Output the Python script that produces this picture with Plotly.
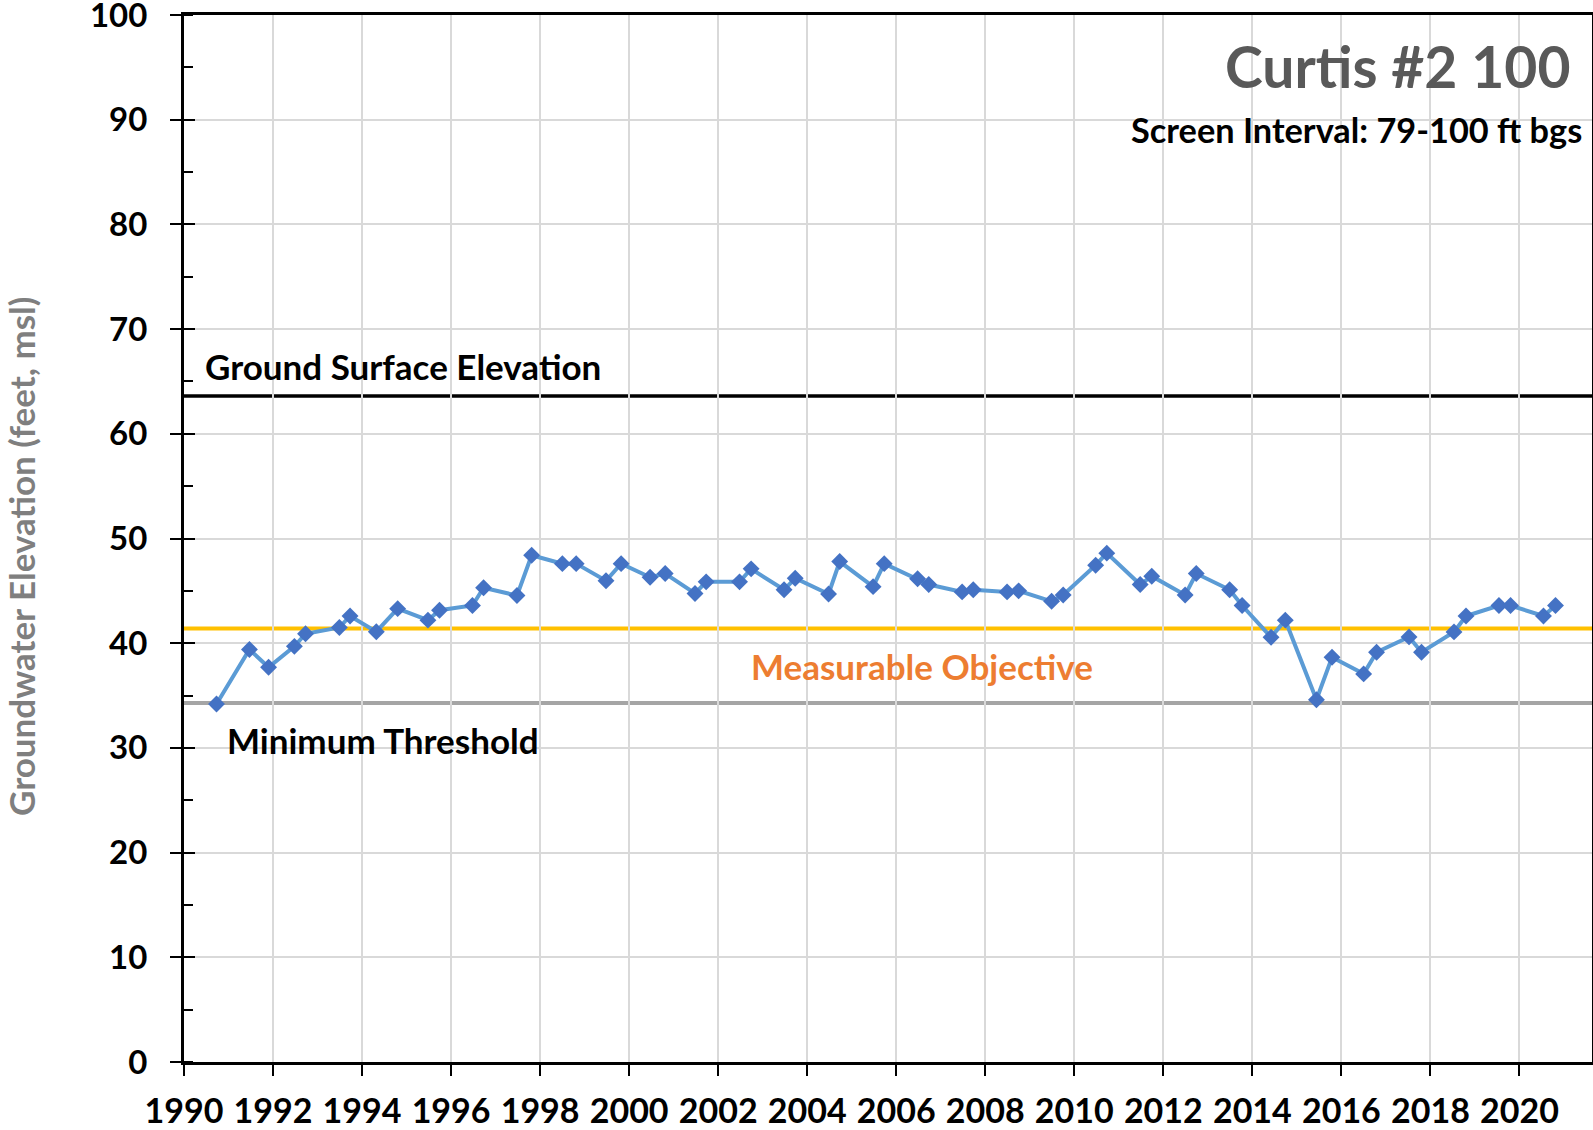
import plotly.graph_objects as go

# --- data (decimal years, groundwater elevation ft msl) ---
years = [1990.73, 1991.47, 1991.90, 1992.48, 1992.73, 1993.49, 1993.73, 1994.32, 1994.80,
         1995.48, 1995.74, 1996.48, 1996.73, 1997.48, 1997.81, 1998.50, 1998.81, 1999.48,
         1999.82, 2000.47, 2000.81, 2001.48, 2001.73, 2002.48, 2002.74, 2003.48, 2003.73,
         2004.48, 2004.73, 2005.48, 2005.73, 2006.48, 2006.73, 2007.48, 2007.73, 2008.49,
         2008.75, 2009.49, 2009.75, 2010.48, 2010.73, 2011.48, 2011.74, 2012.49, 2012.74,
         2013.49, 2013.77, 2014.42, 2014.74, 2015.44, 2015.79, 2016.50, 2016.79, 2017.52,
         2017.80, 2018.53, 2018.80, 2019.54, 2019.80, 2020.54, 2020.81]
elevation = [34.2, 39.4, 37.7, 39.7, 40.9, 41.5, 42.6, 41.1, 43.3,
             42.2, 43.15, 43.6, 45.3, 44.55, 48.4, 47.6, 47.6, 45.96,
             47.6, 46.3, 46.65, 44.75, 45.86, 45.86, 47.1, 45.1, 46.2,
             44.7, 47.8, 45.4, 47.6, 46.15, 45.6, 44.9, 45.1, 44.9,
             45.0, 44.0, 44.6, 47.45, 48.6, 45.6, 46.4, 44.6, 46.65,
             45.1, 43.6, 40.57, 42.2, 34.6, 38.66, 37.07, 39.14, 40.6,
             39.14, 41.08, 42.6, 43.6, 43.6, 42.6, 43.6]

ground_surface = 63.6
measurable_objective = 41.4
minimum_threshold = 34.3

title_text = "Curtis #2 100"
subtitle_text = "Screen Interval: 79-100 ft bgs"
y_title = "Groundwater Elevation (feet, msl)"

x_min, x_max = 1990, 2021.63
y_min, y_max = 0, 100

FONT = "Lato"
W, H = 1593, 1130
L, R, T, B = 184, 1592, 15, 1062  # plot area in pixels

fig = go.Figure()

# reference lines
for yv, col, wd in [(ground_surface, "#000000", 3.5), (measurable_objective, "#FFC000", 4),
                    (minimum_threshold, "#A5A5A5", 4)]:
    fig.add_shape(type="line", xref="paper", x0=0, x1=1, yref="y", y0=yv, y1=yv,
                  line=dict(color=col, width=wd), layer="below")

fig.add_trace(go.Scatter(
    x=years, y=elevation, mode="lines+markers",
    line=dict(color="#5B9BD5", width=4),
    marker=dict(symbol="diamond", size=13, color="#4472C4"),
    showlegend=False, cliponaxis=False))

# dummy trace for overlay axis (inner half of major ticks)
fig.add_trace(go.Scatter(x=[x_min], y=[y_min], yaxis="y2", mode="markers",
                         marker=dict(opacity=0), showlegend=False, hoverinfo="skip"))

fig.update_layout(
    width=W, height=H,
    margin=dict(l=L, r=W - R, t=T, b=H - B, autoexpand=False),
    plot_bgcolor="white", paper_bgcolor="white",
    font=dict(family=FONT, color="black"),
    xaxis=dict(range=[x_min, x_max], tick0=1990, dtick=2, showgrid=True,
               gridcolor="#D9D9D9", gridwidth=2, zeroline=False, automargin=False,
               showline=True, linecolor="black", linewidth=3, mirror=True,
               ticks="outside", ticklen=11, tickwidth=2, tickcolor="black",
               tickfont=dict(family=FONT, size=34, color="black", weight="bold"),
               ticklabelstandoff=6),
    yaxis=dict(range=[y_min, y_max], dtick=10, showgrid=True, automargin=False,
               gridcolor="#D9D9D9", gridwidth=2, zeroline=False,
               showline=True, linecolor="black", linewidth=3, mirror=True,
               ticks="outside", ticklen=11, tickwidth=2, tickcolor="black",
               minor=dict(dtick=5, ticks="inside", ticklen=9, tickwidth=2,
                          tickcolor="black", showgrid=False),
               tickfont=dict(family=FONT, size=33, color="black", weight="bold"),
               ticklabelstandoff=16, ticklabeloverflow="allow"),
    yaxis2=dict(range=[y_min, y_max], overlaying="y", side="left", dtick=10,
                automargin=False,
                ticks="inside", ticklen=11, tickwidth=2, tickcolor="black",
                showticklabels=False, showgrid=False, zeroline=False, showline=False),
)

ann = [
    dict(text=title_text, x=1572, y=66, font=dict(size=57, color="#595959", weight="bold"),
         xanchor="right"),
    dict(text=subtitle_text, x=1584, y=129, font=dict(size=34.3, color="black", weight="bold"),
         xanchor="right"),
    dict(text="Ground Surface Elevation", x=203, y=366,
         font=dict(size=35, color="black", weight="bold"), xanchor="left"),
    dict(text="Measurable Objective", x=749, y=666,
         font=dict(size=35, color="#ED7D31", weight="bold"), xanchor="left"),
    dict(text="Minimum Threshold", x=225, y=740,
         font=dict(size=35, color="black", weight="bold"), xanchor="left"),
]
for a in ann:
    fig.add_annotation(text=a["text"], xref="paper", yref="paper",
                       x=(a["x"] - L) / (R - L), y=(B - a["y"]) / (B - T),
                       xanchor=a["xanchor"], yanchor="middle", showarrow=False,
                       font=dict(family=FONT, **a["font"]))

fig.add_annotation(text=y_title, xref="paper", yref="paper",
                   x=(21 - L) / (R - L), y=(B - 557) / (B - T),
                   xanchor="center", yanchor="middle", textangle=-90, showarrow=False,
                   font=dict(family=FONT, size=35, color="#7F7F7F", weight="bold"))

fig.write_html("out.html", config={"displayModeBar": False},
               post_script="document.body.style.margin='0';document.body.style.overflow='hidden';")
